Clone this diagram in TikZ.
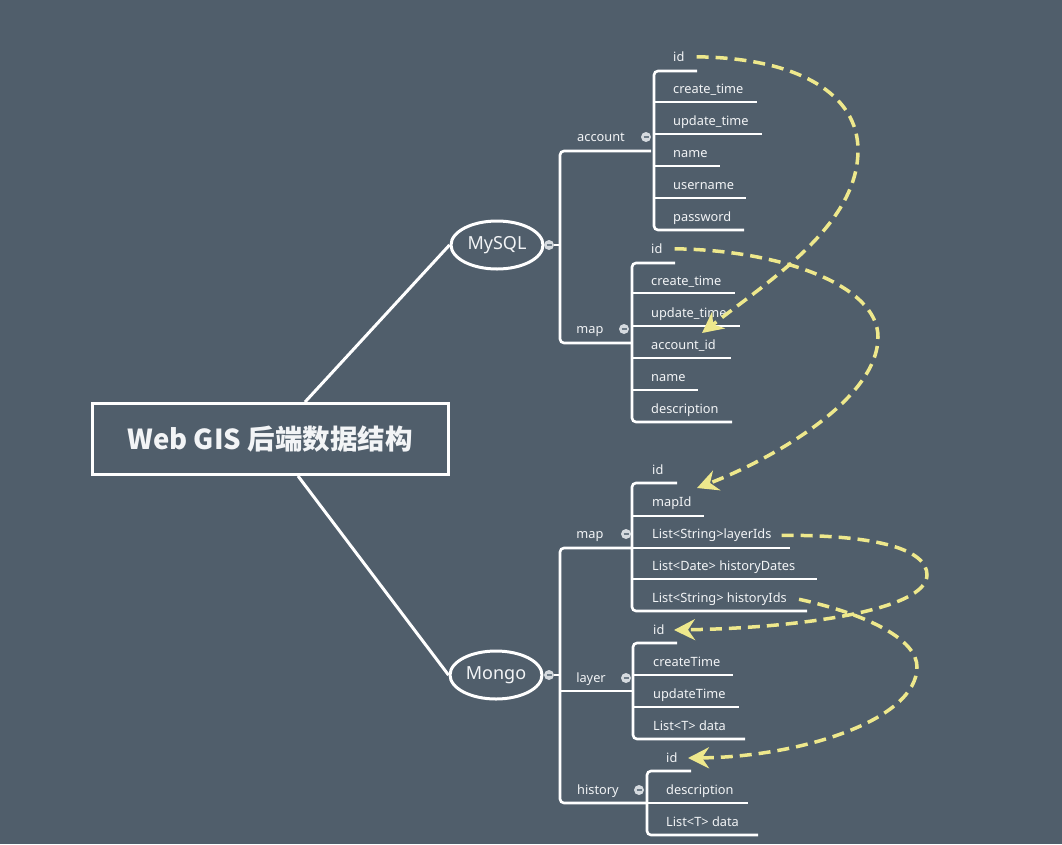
\documentclass[tikz,border=0pt]{standalone}
\usepackage{fontspec}
\setmainfont{Noto Sans}
\newfontfamily\titlefont{Noto Sans CJK SC}
\usetikzlibrary{shapes.geometric,arrows.meta}
\definecolor{bg}{HTML}{505E6B}
\definecolor{ink}{HTML}{F2F4F6}
\definecolor{linkc}{HTML}{EEE88C}
\definecolor{knobc}{HTML}{D5DADF}
\definecolor{knobdash}{HTML}{6E7C88}
\begin{document}
\begin{tikzpicture}[x=1pt,y=-1pt,
  item/.style={anchor=base west, text=ink, font=\fontsize{12.8}{14}\selectfont, inner sep=0pt, yshift=-4.6pt},
  grp/.style={anchor=base, text=ink, font=\fontsize{12.8}{14}\selectfont, inner sep=0pt, yshift=-4.6pt},
  branch/.style={draw=white, line width=2.6pt, rounded corners=4pt},
  knob/.style={circle, fill=knobc, minimum size=10pt, inner sep=0pt,
    path picture={\draw[knobdash, line width=1.2pt] ([xshift=-2.5pt]path picture bounding box.center) -- ([xshift=2.5pt]path picture bounding box.center);}},
  db/.style={ellipse, draw=white, line width=3pt, minimum width=92pt, minimum height=48pt, inner sep=0pt, text=ink, font=\fontsize{18}{20}\selectfont},
  refarrow/.style={draw=linkc, line width=3.5pt, dash pattern=on 12pt off 7pt, -{Stealth[length=21pt,width=21pt,inset=7pt]}}
]
\fill[bg] (0,0) rectangle (1062,844);
\useasboundingbox (0,0) rectangle (1062,844);

% central
\node[draw=white, line width=3pt, minimum width=356pt, minimum height=71pt, inner sep=0pt, text=ink,
  font=\titlefont\bfseries\fontsize{27.5}{30}\selectfont] (title) at (270,439) {Web GIS 后端数据结构};
\node[db] (mysql) at (497,245) {MySQL};
\node[db] (mongo) at (496,675) {Mongo};
\draw[white, line width=3pt] ([xshift=35pt]title.north) -- (mysql.west);
\draw[white, line width=3pt] ([xshift=28pt]title.south) -- (mongo.west);

% ---------- MySQL ----------
\coordinate (mysqlbar) at (560,245);
\draw[branch] (651,151) -- (560,151) -- (560,343) -- (632,343);
\node[knob] (kmysql) at (549,245) {};
\draw[branch] (kmysql) -- (mysqlbar);

% account
\node[grp] (account) at (601,137) {account};
\node[knob] (kacc) at (646,137) {};
\draw[branch] (697,71) -- (654,71) -- (654,230) -- (744,230);
\draw[branch] (654,102) -- (757,102);
\draw[branch] (654,134) -- (762,134);
\draw[branch] (654,166) -- (720,166);
\draw[branch] (654,198) -- (746,198);
\node[item] (aid) at (673,57) {id};
\node[item] (actime) at (673,89) {create\_time};
\node[item] (autime) at (673,121) {update\_time};
\node[item] (aname) at (673,153) {name};
\node[item] (auser) at (673,185) {username};
\node[item] (apass) at (673,217) {password};

% map (MySQL)
\node[grp] (smap) at (590,329) {map};
\node[knob] (ksmap) at (624,329) {};
\draw[branch] (675,263) -- (632,263) -- (632,422) -- (732,422);
\draw[branch] (632,293) -- (735,293);
\draw[branch] (632,326) -- (740,326);
\draw[branch] (632,358) -- (731,358);
\draw[branch] (632,390) -- (698,390);
\node[item] (sid) at (651,249) {id};
\node[item] (sctime) at (651,281) {create\_time};
\node[item] (sutime) at (651,313) {update\_time};
\node[item] (sacc) at (651,345) {account\_id};
\node[item] (sname) at (651,377) {name};
\node[item] (sdesc) at (651,409) {description};

% ---------- Mongo ----------
\coordinate (mongobar) at (560,675);
\draw[branch] (632,548) -- (560,548) -- (560,803) -- (647,803);
\draw[branch] (560,691) -- (633,691);
\node[knob] (kmongo) at (549,675) {};
\draw[branch] (kmongo) -- (mongobar);

% map (Mongo)
\node[grp] (mmap) at (590,534) {map};
\node[knob] (kmmap) at (626,534) {};
\draw[branch] (677,483) -- (632,483) -- (632,611) -- (807,611);
\draw[branch] (632,516) -- (704,516);
\draw[branch] (632,548) -- (790,548);
\draw[branch] (632,579) -- (817,579);
\node[item] (mid) at (652,470) {id};
\node[item] (mmapid) at (652,502) {mapId};
\node[item] (mlayers) at (652,534) {List<String>layerIds};
\node[item] (mdates) at (652,566) {List<Date> historyDates};
\node[item] (mhist) at (652,598) {List<String> historyIds};

% layer
\node[grp] (layer) at (591,678) {layer};
\node[knob] (klayer) at (626,678) {};
\draw[branch] (677,643) -- (633,643) -- (633,739) -- (745,739);
\draw[branch] (633,675) -- (733,675);
\draw[branch] (633,707) -- (739,707);
\node[item] (lid) at (653,630) {id};
\node[item] (lctime) at (653,662) {createTime};
\node[item] (lutime) at (653,694) {updateTime};
\node[item] (ldata) at (653,726) {List<T> data};

% history
\node[grp] (history) at (598,790) {history};
\node[knob] (khist) at (639,790) {};
\draw[branch] (691,771) -- (647,771) -- (647,835) -- (758,835);
\draw[branch] (647,803) -- (748,803);
\node[item] (hid) at (666,758) {id};
\node[item] (hdesc) at (666,790) {description};
\node[item] (hdata) at (666,822) {List<T> data};

% ---------- references ----------
\coordinate (t1) at (702,333);
\coordinate (t2) at (697,488);
\coordinate (t3) at (674,630);
\coordinate (t4) at (688,758);
\draw[refarrow] ([xshift=12pt]aid.east) .. controls (800,58) and (858,95) .. (858,150)
   .. controls (858,225) and (770,280) .. (t1);
\draw[refarrow] ([xshift=12pt]sid.east) .. controls (780,250) and (878,285) .. (878,337)
   .. controls (878,400) and (770,460) .. (t2);
\draw[refarrow] ([xshift=10pt]mlayers.east) .. controls (880,535) and (927,550) .. (927,575)
   .. controls (927,610) and (800,628) .. (t3);
\draw[refarrow] ([xshift=12pt]mhist.east) .. controls (870,615) and (917,640) .. (917,667)
   .. controls (917,720) and (800,757) .. (t4);
\end{tikzpicture}
\end{document}
